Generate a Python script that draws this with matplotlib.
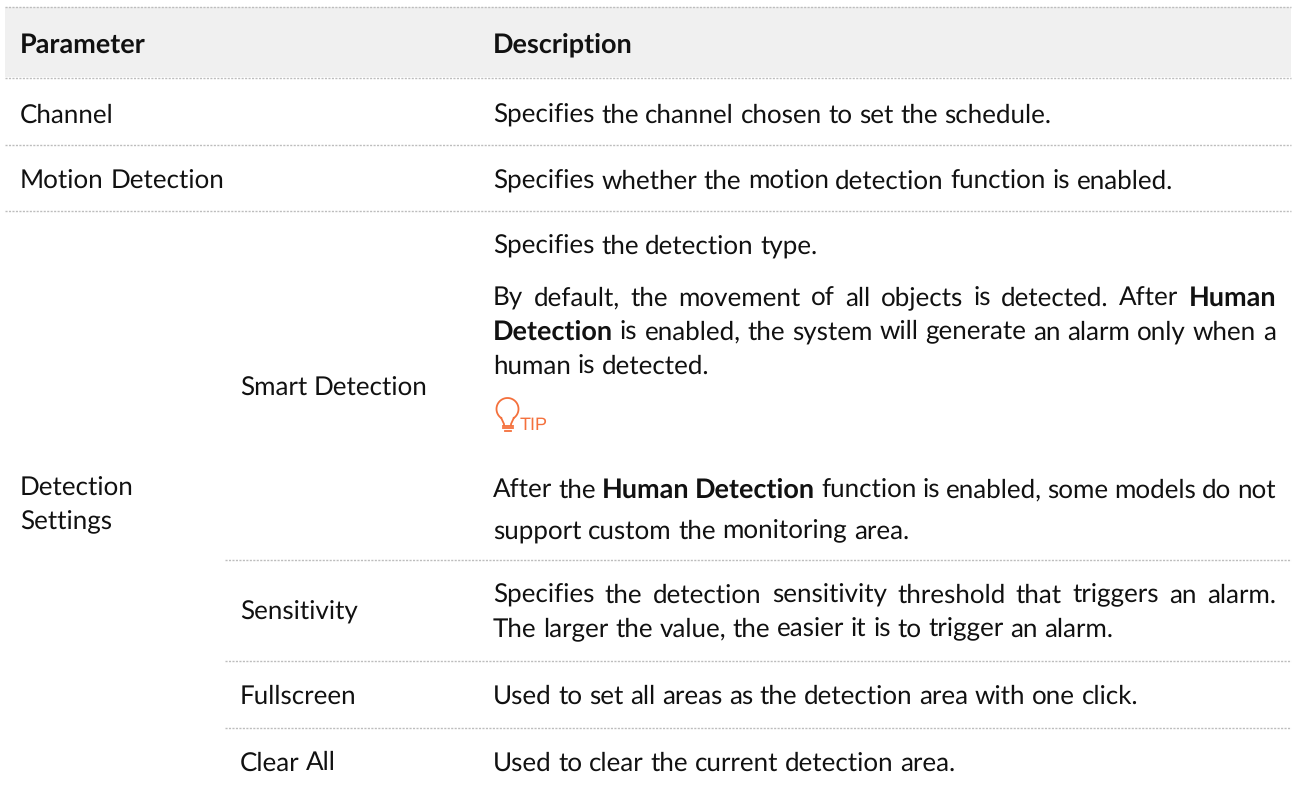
import math
import numpy as np
import matplotlib
matplotlib.use('Agg')
import matplotlib.pyplot as plt
from matplotlib.font_manager import FontProperties

plt.rcParams['text.hinting'] = 'no_hinting'
plt.rcParams['text.hinting_factor'] = 1

# pixel sized figure
W, H = 1293, 789
FONT = 'Lato'
SIZES = {'normal': 18.7, 'bold': 19.2}
TXT = '#111111'
ORANGE = '#f4703c'

# table text, ** marks the bold words
headers = ['Parameter', 'Description']
col1_labels = ['Channel', 'Motion Detection', 'Detection', 'Settings']
col2_labels = ['Smart Detection', 'Sensitivity', 'Fullscreen', 'Clear All']
desc_channel = 'Specifies the channel chosen to set the schedule.'
desc_motion = 'Specifies whether the motion detection function is enabled.'
desc_smart = ['Specifies the detection type.',
              'By default, the movement of all objects is detected. After **Human**',
              '**Detection** is enabled, the system will generate an alarm only when a',
              'human is detected.',
              'After the **Human Detection** function is enabled, some models do not',
              'support custom the monitoring area.']
desc_sens = ['Specifies the detection sensitivity threshold that triggers an alarm.',
             'The larger the value, the easier it is to trigger an alarm.']
desc_full = 'Used to set all areas as the detection area with one click.'
desc_clear = 'Used to clear the current detection area.'
tip_label = 'TIP'

fig = plt.figure(figsize=(W / 100, H / 100), dpi=100)
ax = fig.add_axes([0, 0, 1, 1])
ax.set_xlim(0, W)
ax.set_ylim(H, 0)
ax.axis('off')
rend = fig.canvas.get_renderer()

X0, X1 = 5, 1291
XA, XB, XC = 20, 240, 493
XR = 1276


def width(s, weight):
    t = ax.text(0, 0, s, family=FONT, fontsize=SIZES[weight], weight=weight)
    w = t.get_window_extent(rend).width
    t.remove()
    return w


def advance(s, weight):
    # pad with a letter both sides so side bearings count
    return width('n' + s + 'n', weight) - width('nn', weight)


SPACE = advance(' ', 'normal')


def line(x, y, s, justify=False):
    # split into words, keep bold flag, place one by one
    words = []
    bold = False
    for part in s.split('**'):
        for w in part.split():
            words.append((w, 'bold' if bold else 'normal'))
        bold = not bold
    ws = [advance(w, b) for w, b in words]
    gap = SPACE
    if justify and len(words) > 1:
        gap = (XR - x - sum(ws)) / (len(words) - 1)
    for (w, b), wd in zip(words, ws):
        # agg rounds y + descent, nudge so all words sit on one baseline
        fp = FontProperties(family=FONT, size=SIZES[b], weight=b)
        d = rend.get_text_width_height_descent(w, fp, False)[2]
        ax.text(x, y + math.ceil(d) - d, w, fontproperties=fp, color=TXT, va='baseline')
        x += wd + gap


def rule(y, x0=X0):
    ax.plot([x0, X1], [y, y], color='#bdbdbd', lw=1, ls=(0, (1.5, 1)), solid_capstyle='butt')


# header band
ax.fill_between([X0, X1], 7, 77, color='#f0f0f0', lw=0)
for y in [7, 77.5, 145, 211]:
    rule(y)
for y in [559.5, 660.5, 727.5]:
    rule(y, 225)

line(XA, 52, '**' + headers[0] + '**')
line(XC, 52, '**' + headers[1] + '**')

line(XA, 122, col1_labels[0])
line(XA, 188, col1_labels[1])
line(XA, 495, col1_labels[2])
line(XA, 529, col1_labels[3])

line(XB, 395, col2_labels[0])
line(XB, 619, col2_labels[1])
line(XB, 703, col2_labels[2])
line(XB, 770, col2_labels[3])

line(XC, 122, desc_channel)
line(XC, 188, desc_motion)

line(XC, 253, desc_smart[0])
line(XC, 305, desc_smart[1], True)
line(XC, 339, desc_smart[2], True)
line(XC, 373, desc_smart[3])
line(XC, 497, desc_smart[4], True)
line(XC, 538, desc_smart[5])

line(XC, 602, desc_sens[0], True)
line(XC, 636, desc_sens[1])
line(XC, 703, desc_full)
line(XC, 770, desc_clear)

# tip icon, bulb outline and screw lines
a = np.radians(np.linspace(-55, 235, 60))
ax.plot(507.5 + 11 * np.cos(a), 409 - 11 * np.sin(a), color=ORANGE, lw=1.3)
ax.plot([513.8, 511, 511], [418, 424, 425], color=ORANGE, lw=1.3)
ax.plot([501.2, 504, 504], [418, 424, 425], color=ORANGE, lw=1.3)
for y, hw in [(425.5, 5), (428, 5), (430.5, 3)]:
    ax.plot([507.5 - hw, 507.5 + hw], [y, y], color=ORANGE, lw=1.3)
ax.text(520, 430, tip_label, family='Liberation Sans', fontsize=13, color=ORANGE, va='baseline')

fig.savefig('out.png', dpi=100)
